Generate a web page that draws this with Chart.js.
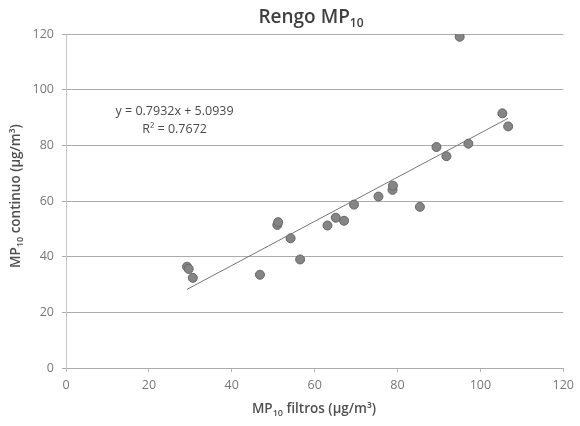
<!DOCTYPE html>
<html lang="es">
<head>
<meta charset="UTF-8">
<title>Rengo MP10</title>
<script src="https://cdn.jsdelivr.net/npm/chart.js"></script>
<style>
    html, body { margin: 0; padding: 0; background: #fff; }
    #wrap { width: 580px; height: 426px; }
</style>
</head>
<body>
<div id="wrap"><canvas id="myChart" width="580" height="426"></canvas></div>
<script>
// MP10 filtros (x) vs MP10 continuo (y), ug/m3
const filtros  = [29.2, 29.6, 30.6, 46.8, 51.0, 51.2, 54.2, 56.5, 63.1, 65.1, 67.1, 69.5, 75.4, 78.8, 78.9, 85.4, 89.4, 91.8, 95.0, 97.1, 105.3, 106.7];
const continuo = [36.4, 35.6, 32.4, 33.5, 51.4, 52.4, 46.6, 39.0, 51.2, 54.0, 52.9, 58.7, 61.6, 64.0, 65.5, 57.9, 79.4, 76.1, 119.0, 80.6, 91.5, 86.8];

// linea de tendencia (ajuste lineal)
const pendiente = 0.7932;
const intercepto = 5.0939;
const r2 = 0.7672;

const xTicks = [0, 20, 40, 60, 80, 100, 120];
const yTicks = [0, 20, 40, 60, 80, 100, 120];

const FONT = "'Open Sans', 'Noto Sans', sans-serif";

let puntos = filtros.map((v, i) => ({x: v, y: continuo[i]}));
let xMin = Math.min(...filtros), xMax = Math.max(...filtros);
let tendencia = [
    {x: xMin, y: pendiente * xMin + intercepto},
    {x: xMax, y: pendiente * xMax + intercepto}
];

// texto con subindices: partes [{t, size, dy}]
function textoRico(ctx, partes, x, y, weight, color) {
    ctx.save();
    ctx.fillStyle = color;
    ctx.textBaseline = 'alphabetic';
    ctx.textAlign = 'left';
    let ancho = 0;
    partes.forEach(p => {
        ctx.font = weight + ' ' + p.size + 'px ' + FONT;
        p.w = ctx.measureText(p.t).width;
        ancho += p.w;
    });
    let cx = x - ancho / 2;
    partes.forEach(p => {
        ctx.font = weight + ' ' + p.size + 'px ' + FONT;
        ctx.fillText(p.t, cx, y + (p.dy || 0));
        cx += p.w;
    });
    ctx.restore();
}

const rotulos = {
    id: 'rotulos',
    afterDraw(chart) {
        const ctx = chart.ctx;
        const sx = chart.scales.x, sy = chart.scales.y;

        // titulo
        textoRico(ctx, [{t: 'Rengo MP', size: 19}, {t: '10', size: 12, dy: 4}], 311, 23, '600', '#404040');

        // titulo eje x
        textoRico(ctx, [{t: 'MP', size: 13.5}, {t: '10', size: 9, dy: 3}, {t: ' filtros (µg/m³)', size: 13.5}],
            314, 413, '600', '#505050');

        // titulo eje y
        ctx.save();
        ctx.translate(20, 196);
        ctx.rotate(-Math.PI / 2);
        textoRico(ctx, [{t: 'MP', size: 13.5}, {t: '10', size: 9, dy: 3}, {t: ' continuo (µg/m³)', size: 13.5}],
            0, 0, '600', '#505050');
        ctx.restore();

        // ecuacion
        let ex = sx.getPixelForValue(26.2), ey = sy.getPixelForValue(92);
        ctx.save();
        ctx.fillStyle = '#4a4a4a';
        ctx.font = '12.5px ' + FONT;
        ctx.textAlign = 'center';
        ctx.textBaseline = 'middle';
        ctx.fillText('y = ' + pendiente + 'x + ' + intercepto, ex, ey);
        ctx.fillText('R² = ' + r2, ex, ey + 18);
        ctx.restore();
    }
};

const ctx = document.getElementById('myChart');
new Chart(ctx, {
    type: 'scatter',
    data: {
        datasets: [{
            label: 'MP10',
            data: puntos,
            pointRadius: 4.5,
            pointBackgroundColor: '#858585',
            pointBorderColor: '#666',
            pointBorderWidth: 1,
            order: 1
        }, {
            label: 'Tendencia',
            type: 'line',
            data: tendencia,
            borderColor: '#777',
            borderWidth: 1,
            pointRadius: 0,
            fill: false,
            order: 2
        }]
    },
    options: {
        responsive: false,
        animation: false,
        layout: { padding: { left: 0, right: 9, top: 34, bottom: 0 } },
        plugins: {
            legend: { display: false },
            tooltip: { enabled: false },
            title: { display: false }
        },
        scales: {
            x: {
                type: 'linear',
                min: 0, max: 120,
                afterBuildTicks: s => { s.ticks = xTicks.map(v => ({value: v})); },
                afterFit: s => { s.height = 58; },
                grid: { drawOnChartArea: false, drawTicks: true, tickLength: 4, color: '#b5b5b5' },
                border: { display: false },
                ticks: { color: '#777', font: { family: FONT, size: 12.5 }, padding: 6 }
            },
            y: {
                type: 'linear',
                min: 0, max: 120,
                afterBuildTicks: s => { s.ticks = yTicks.map(v => ({value: v})); },
                afterFit: s => { s.width = 66; },
                grid: { color: '#ababab', lineWidth: 1, drawTicks: true, tickLength: 4 },
                border: { display: true, color: '#c4c4c4' },
                ticks: { color: '#777', font: { family: FONT, size: 12.5 }, padding: 8 }
            }
        }
    },
    plugins: [rotulos]
});
</script>
</body>
</html>
